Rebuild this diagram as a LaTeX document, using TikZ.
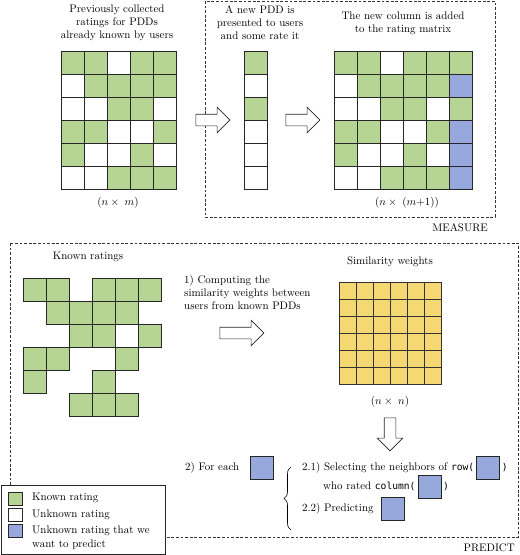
\documentclass[tikz,border=0pt]{standalone}
\usepackage{fontspec}
\newfontfamily\codefont{DejaVu Sans Mono}[Scale=0.88]
\usetikzlibrary{shapes.arrows,decorations.pathreplacing,positioning}
\definecolor{cG}{RGB}{182,212,148}
\definecolor{cW}{RGB}{255,255,255}
\definecolor{cB}{RGB}{150,168,220}
\definecolor{cY}{RGB}{246,216,115}
\tikzset{
  cell/.style={draw=black!85, line width=0.7pt},
  ycell/.style={draw=black!80, fill=cY, line width=0.9pt},
  dashedbox/.style={draw=black!80, line width=0.6pt, dash pattern=on 2.8pt off 1.8pt},
  blockarrow/.style={single arrow, draw=black!85, fill=white, line width=0.6pt,
    minimum width=25pt, single arrow head extend=7pt, inner sep=5.5pt},
  txt/.style={inner sep=0pt},
  oneline/.style={inner sep=0pt, text height=7.5pt, text depth=2.5pt, anchor=west},
  bsq/.style={draw=black!85, fill=cB, minimum size=23pt, inner sep=0pt, line width=0.7pt},
  lsq/.style={draw=black!85, minimum width=14pt, minimum height=13pt, inner sep=0pt, line width=0.7pt},
}
\begin{document}
\begin{tikzpicture}[x=1pt,y=-1pt,font=\fontsize{10.95}{13}\selectfont]
\useasboundingbox (0,0) rectangle (520,555);

% ---------------- MEASURE ----------------
\draw[dashedbox] (205,1) rectangle (495,217);
\node[txt, anchor=east] (measure) at (488,228) {MEASURE};

% matrix 1
\foreach \row [count=\r from 0] in {{G,G,W,G,G},{W,G,G,G,G},{W,W,G,G,W},{G,G,W,W,G},{G,W,W,G,W},{W,W,G,G,G}}{
  \foreach \v [count=\c from 0] in \row {
    \draw[cell, fill=c\v] ({61+23*\c},{51+23*\r}) rectangle ++(23,23);
  }
}
\node[txt, align=center] (t1) at (117,23) {Previously collected\\ratings for PDDs\\already known by users};
\node[txt] (l1) at (118,203) {$(n \times\; m)$};

% column vector
\foreach \v [count=\r from 0] in {G,W,G,W,W,W}{
  \draw[cell, fill=c\v] (244,{51+23*\r}) rectangle ++(23,23);
}
\node[txt, align=center] (t2) at (260,23) {A new PDD is\\presented to users\\and some rate it};

% matrix 2
\foreach \row [count=\r from 0] in {{G,G,W,G,G,G},{W,G,G,G,G,B},{W,W,G,G,W,G},{G,G,W,W,G,B},{G,W,W,G,W,B},{W,W,G,G,G,B}}{
  \foreach \v [count=\c from 0] in \row {
    \draw[cell, fill=c\v] ({334+23*\c},{51+23*\r}) rectangle ++(23,23);
  }
}
\node[txt, align=center] (t3) at (403,23.5) {The new column is added\\to the rating matrix};
\node[txt] (l2) at (407,203) {$(n \times\; (m{+}1))$};

\node[blockarrow, minimum height=34pt] (a1) at (210,120) {};
\node[blockarrow, minimum height=34pt] (a2) at (300,120) {};

% ---------------- PREDICT ----------------
\draw[dashedbox] (10,243) rectangle (518,537);
\node[txt, anchor=east] (predict) at (515,548) {PREDICT};

\node[txt] (t4) at (88,257) {Known ratings};
\foreach \c/\r in {0/0,1/0,3/0,4/0,5/0, 1/1,2/1,3/1,4/1, 2/2,3/2,5/2, 0/3,1/3,4/3, 0/4,3/4, 2/5,3/5,4/5}{
  \draw[cell, fill=cG] ({23+23*\c},{278+23*\r}) rectangle ++(23,23);
}

\node[txt, align=left, anchor=west] (t5) at (184,292.5) {1) Computing the\\similarity weights between\\users from known PDDs};
\node[blockarrow, minimum height=44pt] (a3) at (239,333) {};

\node[txt] (t6) at (390,262) {Similarity weights};
\foreach \i in {0,...,5}{
  \foreach \j in {0,...,5}{
    \draw[ycell] ({339+17*\i},{282+17*\j}) rectangle ++(17,17);
  }
}
\node[txt] (l3) at (390,402) {$(n \times\; n)$};
\node[blockarrow, minimum height=33pt, shape border rotate=270] (a4) at (390,431.5) {};

\node[oneline] (t7) at (185,468) {2) For each};
\node[bsq, right=11pt of t7] (s0) {};

\draw[line width=0.6pt, decorate, decoration={brace, amplitude=7pt}] (291,530) -- (291,467);

\node[oneline] (t21) at (302,468) {2.1) Selecting the neighbors of {\codefont row(}};
\node[bsq, right=2pt of t21] (s21) {};
\node[oneline, right=1.5pt of s21] (p21) {{\codefont )}};

\node[oneline] (t22) at (323,487) {who rated {\codefont column(}};
\node[bsq, right=2pt of t22] (s22) {};
\node[oneline, right=1.5pt of s22] (p22) {{\codefont )}};

\node[oneline] (t23) at (302,509) {2.2) Predicting};
\node[bsq, right=7pt of t23] (s23) {};

% ---------------- legend ----------------
\node[draw=black!85, fill=white, line width=0.7pt, minimum width=164pt, minimum height=69pt,
      inner sep=0pt, anchor=north west] (legend) at (1,485) {};
\node[lsq, fill=cG] (k1) at (15,499) {};
\node[lsq, fill=cW] (k2) at (15,515) {};
\node[lsq, fill=cB] (k3) at (15,531) {};
\node[oneline] (kt1) at (32,498) {Known rating};
\node[oneline] (kt2) at (32,515) {Unknown rating};
\node[txt, align=left, anchor=north west] (kt3) at (32,525.5) {Unknown rating that we\\[1pt]want to predict};
\end{tikzpicture}
\end{document}
